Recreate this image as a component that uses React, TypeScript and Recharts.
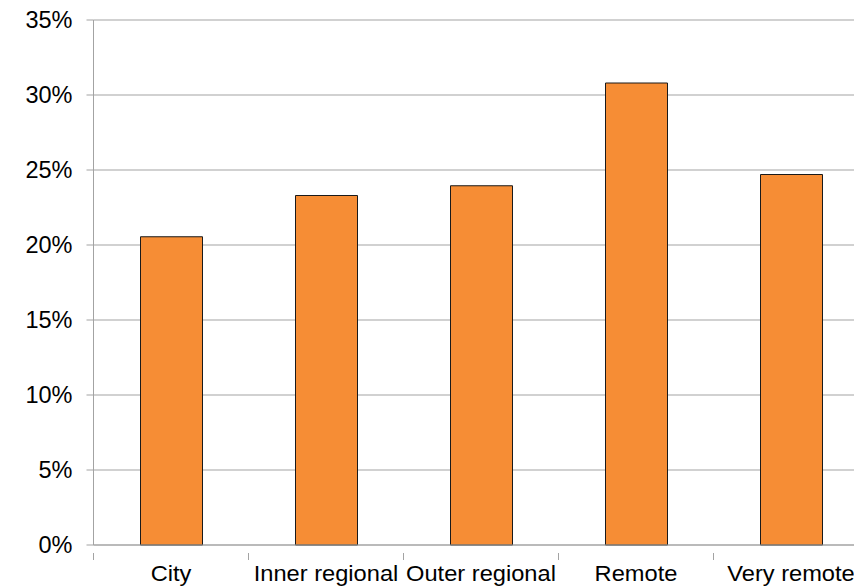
import React from 'react';
import { BarChart, Bar, XAxis, YAxis, CartesianGrid } from 'recharts';

const categories = ['City', 'Inner regional', 'Outer regional', 'Remote', 'Very remote'];
const shares = [20.55, 23.3, 23.95, 30.8, 24.7];
const yTicks = [0, 5, 10, 15, 20, 25, 30, 35];

const data = categories.map((name, i) => ({ name, value: shares[i] }));

const FONT = '"Liberation Sans", Arial, sans-serif';
const AXIS = '#a3a3a3';

// Category label plus a tick mark at the left edge of each band
const CategoryTick = (props: any) => {
  const { x, y, payload } = props;
  const off = payload.offset ?? 0;
  return (
    <g>
      <line x1={x - off} y1={y} x2={x - off} y2={y + 7} stroke={AXIS} strokeWidth={1} />
      <text
        transform={`translate(${x},581) scale(1.1,1)`}
        x={0}
        y={0}
        textAnchor="middle"
        fontFamily={FONT}
        fontSize={21.5}
        fill="#000"
      >
        {payload.value}
      </text>
    </g>
  );
};

export default function App() {
  return (
    <div style={{ position: 'absolute', left: 0, top: 0, width: 854, height: 586, overflow: 'hidden', background: '#fff' }}>
      <BarChart
        width={880}
        height={586}
        data={data}
        margin={{ top: 20, right: 11.5, bottom: 0, left: 0 }}
        barSize={62}
      >
        <CartesianGrid vertical={false} stroke={AXIS} strokeWidth={1} />
        <XAxis
          dataKey="name"
          axisLine={{ stroke: AXIS }}
          tickLine={false}
          tick={<CategoryTick />}
          interval={0}
          height={41}
        />
        <YAxis
          domain={[0, 35]}
          ticks={yTicks}
          width={93.5}
          axisLine={{ stroke: AXIS }}
          tickLine={{ stroke: AXIS }}
          tickSize={7}
          tickMargin={14}
          tickFormatter={(v: number) => `${v}%`}
          tick={{ fontFamily: FONT, fontSize: 23.5, fill: '#000' }}
        />
        <Bar dataKey="value" fill="#f68d35" stroke="#1a1a1a" strokeWidth={1} isAnimationActive={false} />
      </BarChart>
    </div>
  );
}
